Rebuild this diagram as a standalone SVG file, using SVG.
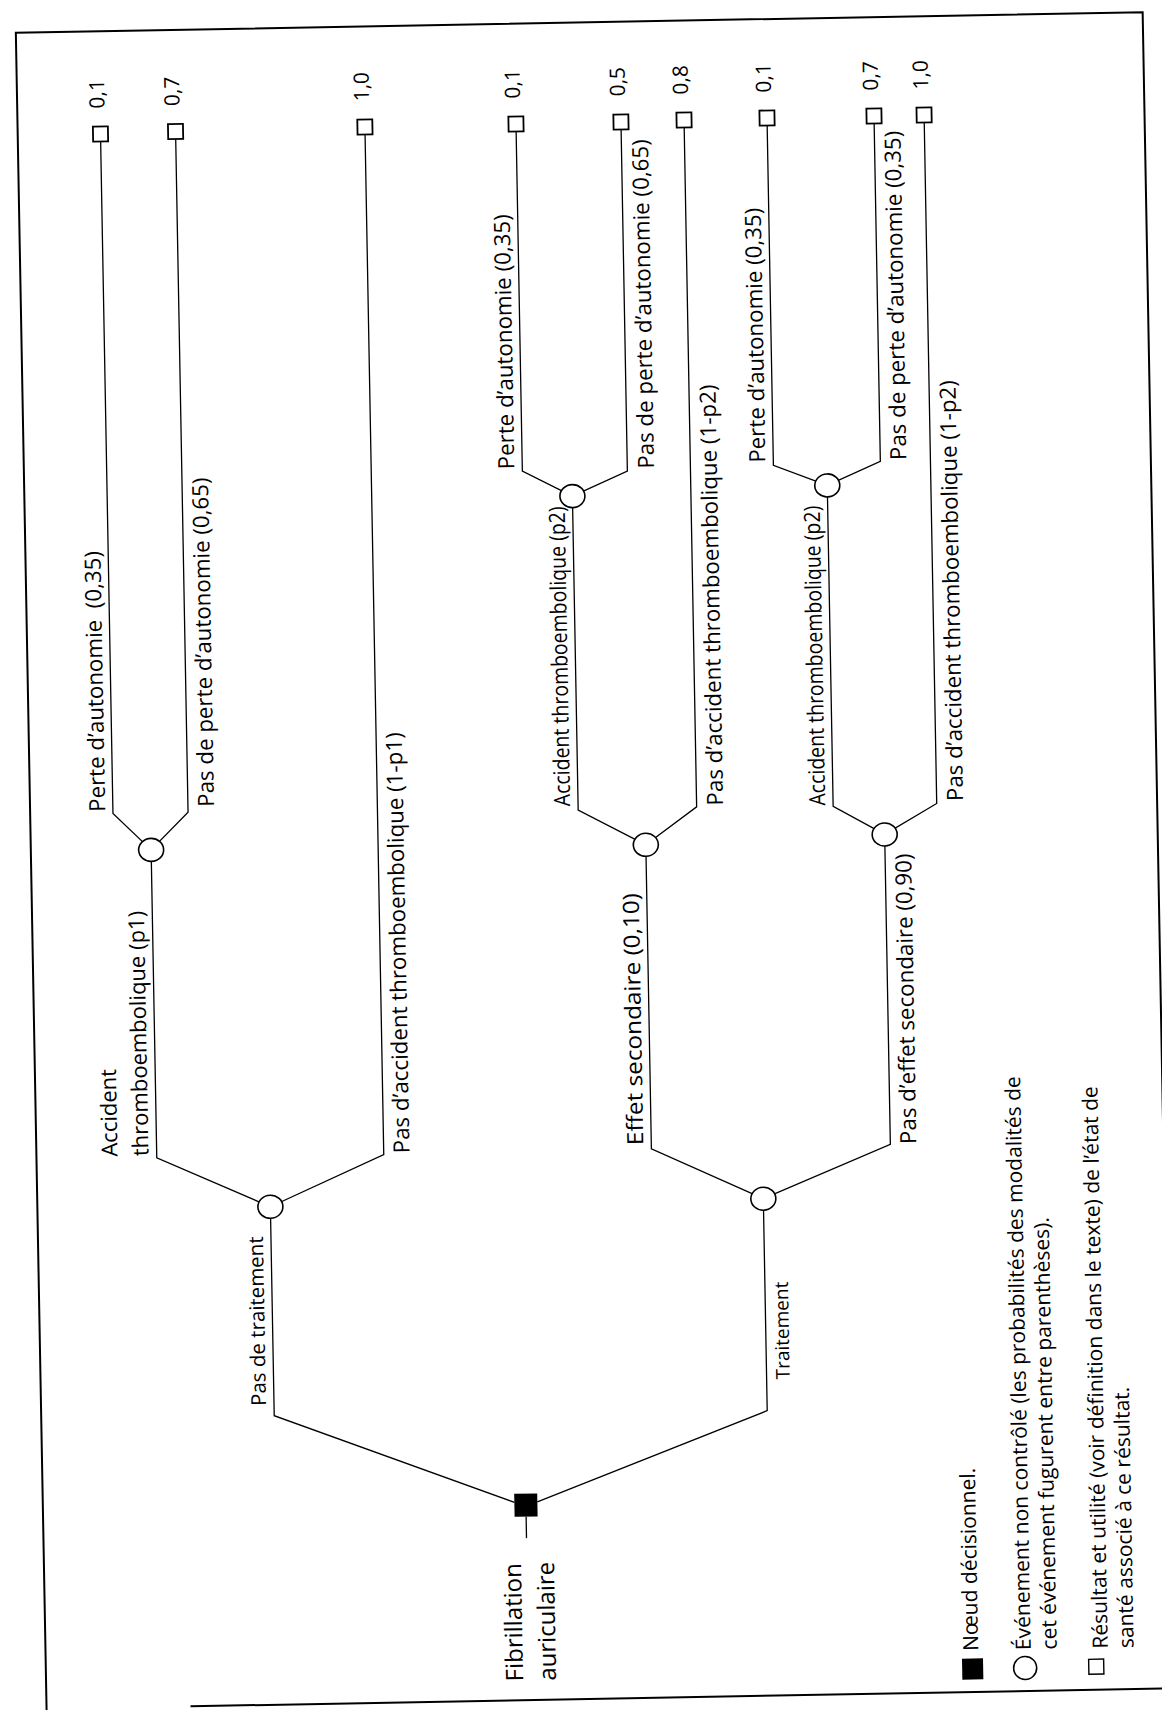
<svg xmlns="http://www.w3.org/2000/svg" width="1162" height="1710" viewBox="0 0 1162 1710">
<style>
.ln{stroke:#000;stroke-width:1.3;fill:none}
.fr{stroke:#000;stroke-width:2;fill:none}
.ch{stroke:#000;stroke-width:1.6;fill:#fff}
.tm{stroke:#000;stroke-width:1.8;fill:#fff}
.lb{font-family:"Open Sans","Noto Sans","DejaVu Sans",sans-serif;font-size:22.3px;fill:#000}
.val{font-family:"Open Sans","Noto Sans","DejaVu Sans",sans-serif;font-size:21px;fill:#000}
.lg{font-family:"Open Sans","Noto Sans","DejaVu Sans",sans-serif;font-size:21px;fill:#000}
.rt{font-family:"Open Sans","Noto Sans","DejaVu Sans",sans-serif;font-size:24px;fill:#000}
</style>
<rect width="1162" height="1710" fill="#fff"/>
<g transform="rotate(-1.05 581 855)">
<g id="frame">
<polyline class="fr" points="31,1730 31,22.6 1158,22.6 1158,1730"/>
<line class="fr" x1="175" y1="1699" x2="1175" y2="1699"/>
</g>
<g id="connectors">
<polyline class="ln" points="502.5,1501 264,1410 264,1212"/>
<polyline class="ln" points="525.5,1501 757,1414 757,1213"/>
<polyline class="ln" points="514,1515.5 514,1537"/>
<polyline class="ln" points="264,1201 151.3,1150 151.3,852"/>
<polyline class="ln" points="264,1201 378.3,1151 378.3,131"/>
<polyline class="ln" points="151.3,842 113.8,805 113.8,133"/>
<polyline class="ln" points="151.3,842 188.9,805 188.9,132"/>
<polyline class="ln" points="757,1202 646,1150 646,856"/>
<polyline class="ln" points="757,1202 885,1150 885,850"/>
<polyline class="ln" points="646,846 579,810 579,506"/>
<polyline class="ln" points="646,846 697.5,809 697.5,129.5"/>
<polyline class="ln" points="579,496 529.4,470 529.4,130.4"/>
<polyline class="ln" points="579,496 634.4,472 634.4,130.3"/>
<polyline class="ln" points="885,840 834,811 834,500"/>
<polyline class="ln" points="885,840 937.6,810 937.6,129"/>
<polyline class="ln" points="834,490 780.5,469 780.5,129"/>
<polyline class="ln" points="834,490 887.5,467 887.5,129"/>
</g>
<g id="root">
<rect x="502.5" y="1492.5" width="23" height="23" fill="#000"/>
<text class="rt" transform="translate(508,1680) rotate(-90)">Fibrillation</text>
<text class="rt" transform="translate(541,1680) rotate(-90)">auriculaire</text>
</g>
<g id="chance-A1"><ellipse class="ch" cx="264" cy="1201" rx="12.5" ry="11.5"/></g>
<g id="chance-A2"><ellipse class="ch" cx="151.3" cy="842" rx="12.5" ry="11.5"/></g>
<g id="chance-B1"><ellipse class="ch" cx="757" cy="1202" rx="12.5" ry="11.5"/></g>
<g id="chance-B2"><ellipse class="ch" cx="646" cy="846" rx="12.5" ry="11.5"/></g>
<g id="chance-B2a"><ellipse class="ch" cx="579" cy="496" rx="12.5" ry="11.5"/></g>
<g id="chance-B3"><ellipse class="ch" cx="885" cy="840" rx="12.5" ry="11.5"/></g>
<g id="chance-B3a"><ellipse class="ch" cx="834" cy="490" rx="12.5" ry="11.5"/></g>
<g id="term-1"><rect class="tm" x="106.3" y="117.8" width="15" height="15"/><text class="val" transform="translate(118.3,99.8) rotate(-90)">0,1</text></g>
<g id="term-2"><rect class="tm" x="181.4" y="116.7" width="15" height="15"/><text class="val" transform="translate(193.4,98.7) rotate(-90)">0,7</text></g>
<g id="term-3"><rect class="tm" x="370.8" y="115.6" width="15" height="15"/><text class="val" transform="translate(382.8,97.6) rotate(-90)">1,0</text></g>
<g id="term-4"><rect class="tm" x="521.9" y="115.4" width="15" height="15"/><text class="val" transform="translate(533.9,97.4) rotate(-90)">0,1</text></g>
<g id="term-5"><rect class="tm" x="626.9" y="115.3" width="15" height="15"/><text class="val" transform="translate(638.9,97.3) rotate(-90)">0,5</text></g>
<g id="term-6"><rect class="tm" x="690" y="114.5" width="15" height="15"/><text class="val" transform="translate(702,96.5) rotate(-90)">0,8</text></g>
<g id="term-7"><rect class="tm" x="773" y="114" width="15" height="15"/><text class="val" transform="translate(785,96) rotate(-90)">0,1</text></g>
<g id="term-8"><rect class="tm" x="880" y="114" width="15" height="15"/><text class="val" transform="translate(892,96) rotate(-90)">0,7</text></g>
<g id="term-9"><rect class="tm" x="930.1" y="113.9" width="15" height="15"/><text class="val" transform="translate(942.1,95.9) rotate(-90)">1,0</text></g>
<g id="labels">
<text class="lb" style="font-size:20.5px" transform="translate(256,1400) rotate(-90)">Pas de traitement</text>
<text class="lb" style="font-size:22px" transform="translate(112,1148) rotate(-90)">Accident</text>
<text class="lb" style="font-size:22px" transform="translate(143,1148) rotate(-90)">thromboembolique (p1)</text>
<text class="lb" transform="translate(404,1150) rotate(-90)">Pas d’accident thromboembolique (1-p1)</text>
<text class="lb" transform="translate(106,803) rotate(-90)">Perte d’autonomie&#160; (0,35)</text>
<text class="lb" transform="translate(215,800) rotate(-90)">Pas de perte d’autonomie (0,65)</text>
<text class="lb" style="font-size:19px" transform="translate(780,1383) rotate(-90)">Traitement</text>
<text class="lb" transform="translate(638,1146) rotate(-90)" textLength="252" lengthAdjust="spacingAndGlyphs">Effet secondaire (0,10)</text>
<text class="lb" transform="translate(911,1150) rotate(-90)">Pas d’effet secondaire (0,90)</text>
<text class="lb" transform="translate(571,806) rotate(-90)" textLength="300" lengthAdjust="spacingAndGlyphs">Accident thromboembolique (p2)</text>
<text class="lb" transform="translate(724,808) rotate(-90)">Pas d’accident thromboembolique (1-p2)</text>
<text class="lb" transform="translate(521.4,468) rotate(-90)">Perte d’autonomie (0,35)</text>
<text class="lb" transform="translate(661,470) rotate(-90)">Pas de perte d’autonomie (0,65)</text>
<text class="lb" transform="translate(826,810) rotate(-90)" textLength="300" lengthAdjust="spacingAndGlyphs">Accident thromboembolique (p2)</text>
<text class="lb" transform="translate(964,808) rotate(-90)">Pas d’accident thromboembolique (1-p2)</text>
<text class="lb" transform="translate(772.5,466) rotate(-90)">Perte d’autonomie (0,35)</text>
<text class="lb" transform="translate(913.5,466) rotate(-90)">Pas de perte d’autonomie (0,35)</text>
</g>
<g id="legend">
<rect x="947.2" y="1665.5" width="21" height="21" fill="#000"/>
<text class="lg" transform="translate(963.5,1658) rotate(-90)">Nœud décisionnel.</text>
<ellipse class="ch" cx="1010.2" cy="1676" rx="11.5" ry="11.5"/>
<text class="lg" transform="translate(1016,1658) rotate(-90)">Événement non contrôlé (les probabilités des modalités de</text>
<text class="lg" transform="translate(1042,1658) rotate(-90)">cet événement fugurent entre parenthèses).</text>
<rect class="tm" x="1073.8" y="1668.5" width="15" height="15" style="stroke-width:1.4"/>
<text class="lg" transform="translate(1093,1658) rotate(-90)">Résultat et utilité (voir définition dans le texte) de l’état de</text>
<text class="lg" transform="translate(1119,1658) rotate(-90)">santé associé à ce résultat.</text>
</g>
</g>
</svg>
